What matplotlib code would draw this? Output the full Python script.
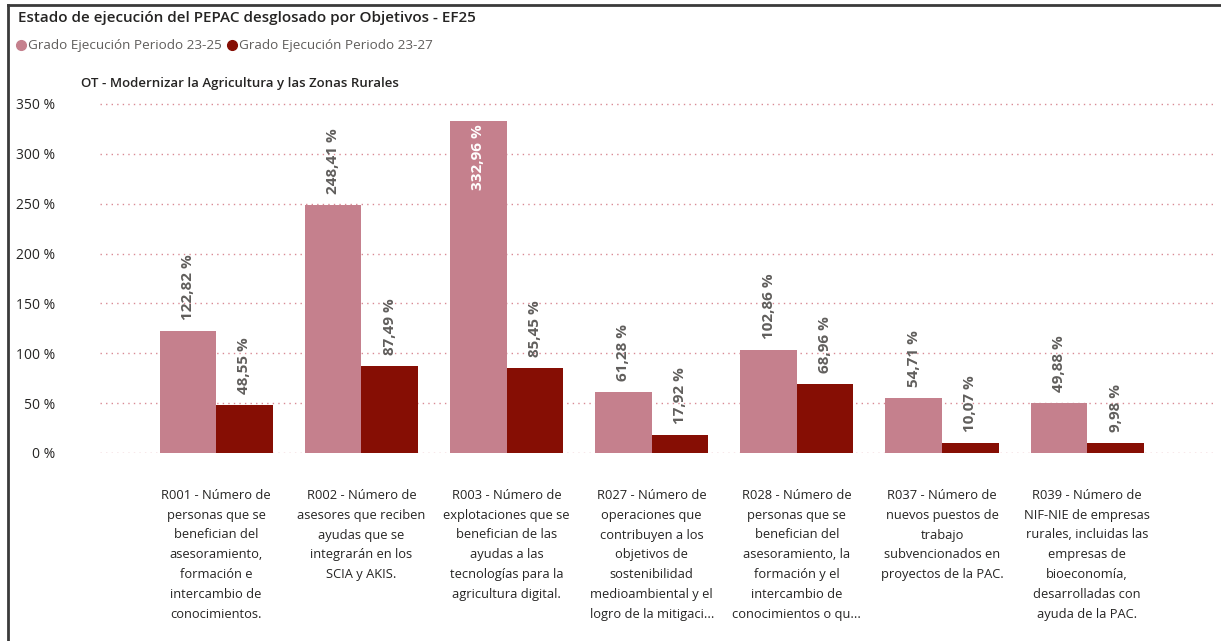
import numpy as np
import matplotlib.pyplot as plt
from matplotlib.lines import Line2D

plt.rcParams['font.family'] = ['Open Sans', 'DejaVu Sans']

# %% Datos
categorias = [
    "R001 - Número de\npersonas que se\nbenefician del\nasesoramiento,\nformación e\nintercambio de\nconocimientos.",
    "R002 - Número de\nasesores que reciben\nayudas que se\nintegrarán en los\nSCIA y AKIS.",
    "R003 - Número de\nexplotaciones que se\nbenefician de las\nayudas a las\ntecnologías para la\nagricultura digital.",
    "R027 - Número de\noperaciones que\ncontribuyen a los\nobjetivos de\nsostenibilidad\nmedioambiental y el\nlogro de la mitigaci...",
    "R028 - Número de\npersonas que se\nbenefician del\nasesoramiento, la\nformación y el\nintercambio de\nconocimientos o qu...",
    "R037 - Número de\nnuevos puestos de\ntrabajo\nsubvencionados en\nproyectos de la PAC.",
    "R039 - Número de\nNIF-NIE de empresas\nrurales, incluidas las\nempresas de\nbioeconomía,\ndesarrolladas con\nayuda de la PAC.",
]
grado_23_25 = [122.82, 248.41, 332.96, 61.28, 102.86, 54.71, 49.88]
grado_23_27 = [48.55, 87.49, 85.45, 17.92, 68.96, 10.07, 9.98]
yticks = [0, 50, 100, 150, 200, 250, 300, 350]

c_rosa = '#C5808D'
c_rojo = '#860E04'
c_texto = '#605E5C'

W, H = 1221, 641
fig = plt.figure(figsize=(W/100, H/100), dpi=100)
ax = fig.add_axes([100/W, 1 - 453/H, (1215-100)/W, (453-94)/H])

x = np.arange(len(categorias))
w = 0.39
ax.bar(x - w/2, grado_23_25, w, color=c_rosa, zorder=2)
ax.bar(x + w/2, grado_23_27, w, color=c_rojo, zorder=2)

ax.set_xlim(-0.8, 6.88)
ax.set_ylim(0, 360)
ax.set_yticks(yticks)
ax.set_yticklabels([f'{v} %' for v in yticks], fontsize=10, color='#252423')
ax.tick_params(axis='y', length=0, pad=32)
ax.set_xticks([])
for s in ax.spines.values():
    s.set_visible(False)
ax.grid(axis='y', color='#D98A94', linestyle=(0, (1, 3)), linewidth=1.0, zorder=0)

# Etiquetas de datos
def fmt(v):
    return f'{v:.2f}'.replace('.', ',') + ' %'

for i in range(len(x)):
    v = grado_23_25[i]
    if v > 300:
        ax.text(x[i] - w/2, v - 3, fmt(v), rotation=90, ha='center', va='top',
                fontsize=11, fontweight='bold', color='white', zorder=3)
    else:
        ax.text(x[i] - w/2, v + 11, fmt(v), rotation=90, ha='center', va='bottom',
                fontsize=11, fontweight='bold', color=c_texto, zorder=3)
    v = grado_23_27[i]
    ax.text(x[i] + w/2, v + 11, fmt(v), rotation=90, ha='center', va='bottom',
            fontsize=11, fontweight='bold', color=c_texto, zorder=3)

# Etiquetas de categorías
for i, cat in enumerate(categorias):
    ax.text(x[i], -36, cat, ha='center', va='top', fontsize=9.3, color='#252423',
            linespacing=1.68)

# Título, leyenda y subtítulo
fig.text(18/W, 1 - 18/H, 'Estado de ejecución del PEPAC desglosado por Objetivos - EF25',
         fontsize=11, fontweight='semibold', color='#252423', va='center')
fig.text(81/W, 1 - 83/H, 'OT - Modernizar la Agricultura y las Zonas Rurales',
         fontsize=9.5, fontweight='semibold', color='#252423', va='center')
handles = [Line2D([], [], marker='o', linestyle='', color=c_rosa, markersize=7),
           Line2D([], [], marker='o', linestyle='', color=c_rojo, markersize=7)]
fig.legend(handles, ['Grado Ejecución Periodo 23-25', 'Grado Ejecución Periodo 23-27'],
           loc='center left', bbox_to_anchor=(9/W, 1 - 46/H), ncol=2, frameon=False,
           fontsize=9.7, labelcolor='#605E5C', handletextpad=0.0, columnspacing=0.3,
           handlelength=1.0, borderaxespad=0)

# Marco
fig.add_artist(Line2D([8/W, 8/W], [0, 1 - 5/H], color='#3A3A3A', linewidth=2))
fig.add_artist(Line2D([8/W, 1], [1 - 5/H, 1 - 5/H], color='#3A3A3A', linewidth=2))

plt.savefig('out.png', dpi=100)
